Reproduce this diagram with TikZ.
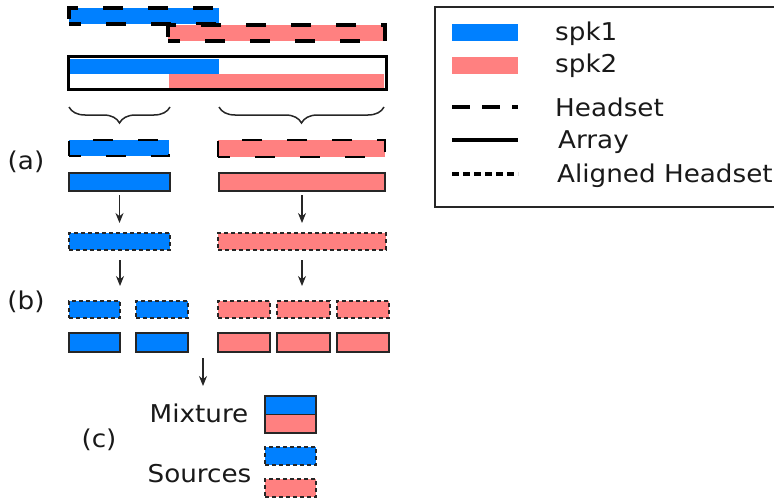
\documentclass[tikz,border=0pt]{standalone}
\usepackage{fontspec}
\setmainfont{DejaVu Sans}[FakeStretch=1.07]
\usetikzlibrary{arrows.meta,decorations.pathreplacing}
\definecolor{spkblue}{RGB}{0,128,255}
\definecolor{spkpink}{RGB}{255,128,128}
\begin{document}
\begin{tikzpicture}[x=1pt,y=-1pt,
  box/.style={inner sep=0pt, outer sep=0pt},
  sz/.style 2 args={minimum width=#1pt, minimum height=#2pt},
  hsbig/.style={box, draw=black, line width=4pt, dash pattern=on 20pt off 25pt, dash phase=8pt},
  hs/.style={box, draw=black, line width=2.5pt, dash pattern=on 20pt off 25pt, dash phase=8pt},
  arrbox/.style={box, draw=black!85, line width=1.5pt},
  albox/.style={box, draw=black!85, line width=1.5pt, dash pattern=on 4pt off 3pt},
  fa/.style={fill=spkblue}, fb/.style={fill=spkpink},
  lbl/.style={inner sep=0pt, font=\fontsize{24.5}{28}\selectfont, text=black!90},
  arr/.style={-{Stealth[length=10pt,width=8pt]}, line width=1.1pt, draw=black!85},
  brc/.style={decorate, decoration={brace,mirror,amplitude=16pt}, line width=1.5pt, draw=black!85}
]
\useasboundingbox (0,0) rectangle (774,503);

% ---- top: headset recordings and array mixture
\node[hsbig, fa, sz={150}{16}] (th1) at (144,16) {};
\node[hsbig, fb, sz={217}{16}] (th2) at (276.5,33) {};
\fill[spkblue] (70,59) rectangle (219,74);
\fill[spkpink] (169,74) rectangle (384,88);
\node[box, draw=black, line width=3pt, sz={318}{33}] (arrbig) at (227,73.5) {};
\draw[brc] (69,107) -- (170,107);
\draw[brc] (219,107) -- (384,107);

% ---- (a)
\node[lbl, anchor=base] (la) at (26,169) {(a)};
\node[hs, fa, sz={100}{16}] (ah1) at (119,148) {};
\node[arrbox, fa, sz={101}{18}] (aa1) at (119.5,182) {};
\node[hs, fb, sz={167}{17}] (ah2) at (301.5,148.5) {};
\node[arrbox, fb, sz={166}{18}] (aa2) at (302,182) {};
\node[albox, fa, sz={101}{17}] (al1) at (119.5,241.5) {};
\node[albox, fb, sz={168}{17}] (al2) at (302,241.5) {};
\draw[arr, shorten <=4pt, shorten >=10pt] (aa1) -- (al1);
\draw[arr, shorten <=4pt, shorten >=10pt] (aa2) -- (al2);

% ---- (b)
\node[lbl, anchor=base] (lb) at (26,309) {(b)};
\node[albox, fa, sz={51}{17}] (bh1) at (94.5,309.5) {};
\node[albox, fa, sz={52}{17}] (bh2) at (162,309.5) {};
\node[albox, fb, sz={52}{17}] (bh3) at (244,309.5) {};
\node[albox, fb, sz={53}{17}] (bh4) at (303.5,309.5) {};
\node[albox, fb, sz={52}{17}] (bh5) at (363,309.5) {};
\node[arrbox, fa, sz={51}{19}] (ba1) at (94.5,342.5) {};
\node[arrbox, fa, sz={52}{19}] (ba2) at (162,342.5) {};
\node[arrbox, fb, sz={52}{19}] (ba3) at (244,342.5) {};
\node[arrbox, fb, sz={53}{19}] (ba4) at (303.5,342.5) {};
\node[arrbox, fb, sz={52}{19}] (ba5) at (363,342.5) {};
\coordinate (b1in) at (120,301);
\coordinate (b2in) at (302,301);
\draw[arr, shorten <=10pt, shorten >=15pt] (al1.south -| b1in) -- (b1in);
\draw[arr, shorten <=10pt, shorten >=15pt] (al2.south -| b2in) -- (b2in);

% ---- (c)
\coordinate (cout) at (203,358);
\coordinate (cin) at (203,386);
\draw[arr] (cout) -- (cin);
\node[lbl, anchor=base] (lmix) at (199,422) {Mixture};
\node[lbl, anchor=base] (lc) at (99,447) {(c)};
\node[lbl, anchor=base] (lsrc) at (199.5,482) {Sources};
\fill[spkblue] (265,396) rectangle (316,414.5);
\fill[spkpink] (265,414.5) rectangle (316,433);
\node[arrbox, sz={51}{37}] (mix) at (290.5,414.5) {};
\draw[line width=1.5pt, draw=black!85] (mix.west) -- (mix.east);
\node[albox, fa, sz={51}{18}] (src1) at (290.5,456) {};
\node[albox, fb, sz={51}{18}] (src2) at (290.5,488) {};

% ---- legend
\node[box, draw=black!85, line width=2pt, sz={345}{200}, anchor=north west] (leg) at (435,7) {};
\fill[spkblue] (452,24) rectangle (518,41);
\fill[spkpink] (452,57) rectangle (518,74);
\coordinate (h1) at (452,107); \coordinate (h2) at (518,107);
\coordinate (r1) at (452,140); \coordinate (r2) at (518,140);
\coordinate (g1) at (452,174); \coordinate (g2) at (518,174);
\draw[line width=4pt, dash pattern=on 18pt off 12pt] (h1) -- (h2);
\draw[line width=4pt] (r1) -- (r2);
\draw[line width=4pt, dash pattern=on 7pt off 4pt] (g1) -- (g2);
\node[lbl, anchor=base west] (t1) at (555,41) {spk1};
\node[lbl, anchor=base west] (t2) at (555,73) {spk2};
\node[lbl, anchor=base west] (t3) at (555,117) {Headset};
\node[lbl, anchor=base west] (t4) at (558,148) {Array};
\node[lbl, anchor=base west] (t5) at (557,182) {Aligned Headset};
\end{tikzpicture}
\end{document}
